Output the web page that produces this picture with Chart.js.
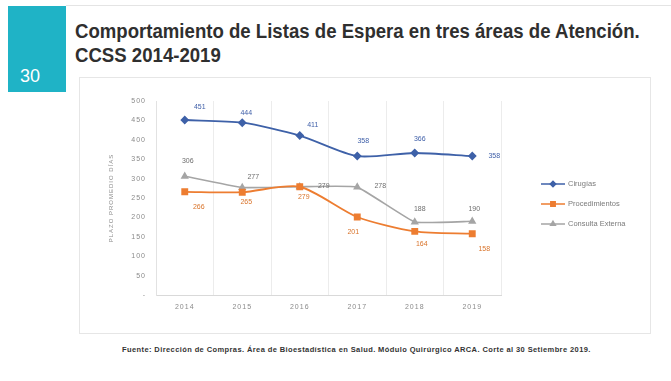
<!DOCTYPE html>
<html lang="es">
<head>
  <meta charset="UTF-8">
  <title>Listas de Espera CCSS 2014-2019</title>
  <script src="https://cdn.jsdelivr.net/npm/chart.js"></script>
  <style>
    body { margin: 0; width: 671px; height: 381px; background: #fff; position: relative; overflow: hidden; font-family: "Liberation Sans", Arial, sans-serif; }
    .topline { position: absolute; left: 66px; top: 5px; width: 605px; height: 1px; background: #e4e4e4; }
    .numero { position: absolute; left: 8px; top: 6px; width: 58px; height: 86px; background: #1fb3c6; }
    .numero span { position: absolute; left: 12px; bottom: 5px; color: #fff; font-size: 18px; }
    .titulo { position: absolute; left: 75px; top: 19px; color: #2f2f2f; font-weight: bold; font-size: 20px; line-height: 24px; transform: scaleX(0.93); transform-origin: left top; white-space: nowrap; }
    .marco { position: absolute; left: 79px; top: 77px; width: 570px; height: 255px; border: 1px solid #e6e6e6; }
    canvas { position: absolute; left: 0; top: 0; letter-spacing: 1px; }
    .fuente { position: absolute; left: 122px; top: 345px; font-size: 7.5px; letter-spacing: 0.4px; font-weight: bold; color: #333; white-space: nowrap; }
  </style>
</head>
<body>
  <div class="topline"></div>
  <div class="numero"><span>30</span></div>
  <div class="titulo">Comportamiento de Listas de Espera en tres áreas de Atención.<br>CCSS 2014-2019</div>
  <div class="marco"><canvas id="myChart" width="570" height="255"></canvas></div>
  <div class="fuente">Fuente: Dirección de Compras. Área de Bioestadística en Salud. Módulo Quirúrgico ARCA. Corte al 30 Setiembre 2019.</div>

  <script>
    // años y plazos por área de atención
    var anios = ['2014', '2015', '2016', '2017', '2018', '2019'];
    var cirugias = [451, 444, 411, 358, 366, 358];
    var procedimientos = [266, 265, 279, 201, 164, 158];
    var consultaExterna = [306, 277, 279, 278, 188, 190];
    var nombres = ['Cirugías', 'Procedimientos', 'Consulta Externa'];

    var fuente = '"Liberation Sans", Arial, sans-serif';

    // etiquetas de valor junto a cada punto
    var etiquetasValor = {
      id: 'etiquetasValor',
      afterDatasetsDraw: function (chart) {
        var ctx = chart.ctx;
        ctx.save();
        ctx.letterSpacing = '0px';
        ctx.font = '7px ' + fuente;
        ctx.textAlign = 'center';
        ctx.textBaseline = 'middle';
        chart.data.datasets.forEach(function (ds, i) {
          var meta = chart.getDatasetMeta(i);
          ctx.fillStyle = ds.labelColor;
          meta.data.forEach(function (pt, j) {
            var off = ds.labelOffsets[j];
            ctx.fillText(ds.data[j], pt.x + off[0], pt.y + off[1]);
          });
        });
        ctx.restore();
      }
    };

    // leyenda a la derecha con línea y marcador
    var leyenda = {
      id: 'leyenda',
      afterDraw: function (chart) {
        var ctx = chart.ctx;
        var x0 = chart.chartArea.right + 40;
        ctx.save();
        ctx.letterSpacing = '0px';
        ctx.font = '7.5px ' + fuente;
        ctx.textBaseline = 'middle';
        chart.data.datasets.forEach(function (ds, i) {
          var y = 106 + i * 20;
          ctx.strokeStyle = ds.borderColor;
          ctx.lineWidth = 1.5;
          ctx.beginPath();
          ctx.moveTo(x0, y);
          ctx.lineTo(x0 + 24, y);
          ctx.stroke();
          ctx.fillStyle = ds.backgroundColor;
          Chart.helpers.drawPoint(ctx, { pointStyle: ds.pointStyle, radius: ds.pointRadius - 0.5, borderWidth: 1 }, x0 + 12, y);
          ctx.fillStyle = '#7a7a7a';
          ctx.fillText(ds.label, x0 + 27, y);
        });
        ctx.restore();
      }
    };

    var ctx = document.getElementById('myChart').getContext('2d');
    var myChart = new Chart(ctx, {
      type: 'line',
      data: {
        labels: anios,
        datasets: [{
          label: nombres[0],
          data: cirugias,
          borderColor: '#3e61a8',
          backgroundColor: '#3e61a8',
          borderWidth: 1.8,
          pointStyle: 'rectRot',
          pointRadius: 3.2,
          tension: 0.25,
          labelColor: '#3f5fa8',
          labelOffsets: [[15, -13], [4, -10], [13, -10], [6, -15], [5, -14], [22, 0]]
        }, {
          label: nombres[1],
          data: procedimientos,
          borderColor: '#ed7d31',
          backgroundColor: '#ed7d31',
          borderWidth: 1.8,
          pointStyle: 'rect',
          pointRadius: 3.6,
          tension: 0.25,
          labelColor: '#d9732a',
          labelOffsets: [[14, 15], [4, 10], [4, 10], [-4, 15], [7, 13], [12, 15]]
        }, {
          label: nombres[2],
          data: consultaExterna,
          borderColor: '#a5a5a5',
          backgroundColor: '#a5a5a5',
          borderWidth: 1.6,
          pointStyle: 'triangle',
          pointRadius: 3.2,
          tension: 0.1,
          labelColor: '#6e6e6e',
          labelOffsets: [[3, -15], [11, -10], [24, -1], [23, -1], [5, -13], [2, -12]]
        }]
      },
      options: {
        responsive: false,
        animation: false,
        layout: { padding: { left: 28, right: 149, top: 23, bottom: 0 } },
        plugins: { legend: { display: false }, tooltip: { enabled: false } },
        scales: {
          x: {
            offset: true,
            grid: { offset: true, color: '#ececec', drawTicks: false },
            border: { color: '#d9d9d9' },
            ticks: { color: '#8a8a8a', padding: 8, font: { size: 7, family: fuente } },
            afterFit: function (s) { s.height = 38; }
          },
          y: {
            min: 0,
            max: 500,
            grid: { display: false, drawTicks: false },
            border: { color: '#e2e2e2' },
            ticks: {
              stepSize: 50,
              color: '#8a8a8a',
              padding: 10,
              font: { size: 7, family: fuente },
              callback: function (v) { return v === 0 ? '-' : v; }
            },
            title: { display: true, text: 'PLAZO PROMEDIO DÍAS', color: '#8a8a8a', padding: 0, font: { size: 6, family: fuente } },
            afterFit: function (s) { s.width = 48; }
          }
        }
      },
      plugins: [etiquetasValor, leyenda]
    });
  </script>
</body>
</html>
